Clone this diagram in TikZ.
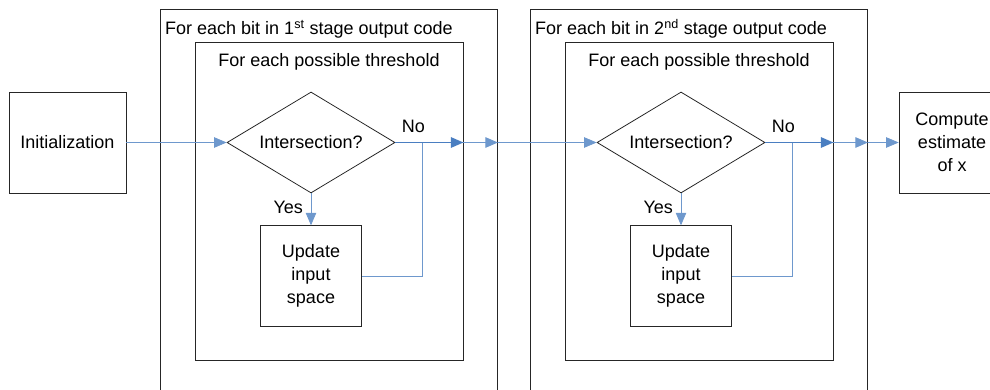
\documentclass[tikz,border=0pt]{standalone}
\usepackage{fontspec}
\setmainfont{Liberation Sans}
\usetikzlibrary{shapes.geometric,arrows.meta}
\definecolor{flowblue}{RGB}{74,126,193}
\begin{document}
\begin{tikzpicture}[x=1pt,y=-1pt,
  every node/.style={font=\fontsize{18}{23}\selectfont, inner sep=0pt},
  box/.style={draw=black!85, line width=0.8pt, rectangle, align=center},
  decision/.style={draw=black!85, line width=0.8pt, diamond, shape aspect=1.663, minimum width=168pt, minimum height=101pt},
  frame/.style={draw=black!85, line width=0.8pt, rectangle},
  thinflow/.style={draw=flowblue!80, line width=0.7pt},
  flow/.style={draw=flowblue, line width=1.3pt},
  arr/.style={-{Triangle[length=12.5pt,width=10.5pt]}, fill=flowblue},
  lbl/.style={anchor=base west}
]
\useasboundingbox (0,0) rectangle (990,390);

% start box
\node[box, minimum width=117pt, minimum height=101pt] (init) at (67.5,142.5) {Initialization};

% two nested loop stages, the second shifted 370 to the right
\foreach \s/\dx/\ord in {1/0/st,2/370/nd}{
  \node[frame, minimum width=337pt, minimum height=400pt] (outer\s) at (329+\dx,209) {};
  \node[frame, minimum width=268pt, minimum height=318pt] (inner\s) at (329+\dx,201.7) {};
  \node[lbl] (otitle\s) at (165+\dx,34.3) {For each bit in \s\textsuperscript{\ord}~stage output code};
  \node[anchor=base] (ititle\s) at (329+\dx,66.7) {For each possible threshold};
  \node[decision] (d\s) at (311+\dx,142.5) {Intersection?};
  \node[box, minimum width=101.7pt, minimum height=101pt, text width=95pt] (up\s) at (311+\dx,276.2) {Update\\input\\space};
  \coordinate (br\s) at (422.7+\dx,142.5);
  \node[lbl] (no\s) at (401.7+\dx,132.7) {No};
  \node[lbl] (yes\s) at (273.3+\dx,213.3) {Yes};

  % yes branch and loop back
  \draw[thinflow, arr] (d\s.south) -- (up\s.north);
  \draw[thinflow] (up\s.east) -| (br\s);
  % no branch leaving the two loops
  \draw[flow, arr] (d\s.east) -- (d\s.east -| inner\s.east);
  \draw[thinflow, line width=1pt, arr] (d\s.east -| inner\s.east) -- (d\s.east -| outer\s.east);
}

% final box, partly beyond the right edge
\node[box, minimum width=106pt, minimum height=101pt] (comp) at (952,142.5) {Compute\\estimate\\of x};

% links between the stages
\draw[thinflow, arr] (init.east) -- (d1.west);
\draw[thinflow, arr] (d1.east -| outer1.east) -- (d2.west);
\draw[thinflow, arr] (d2.east -| outer2.east) -- (comp.west);
\end{tikzpicture}
\end{document}
